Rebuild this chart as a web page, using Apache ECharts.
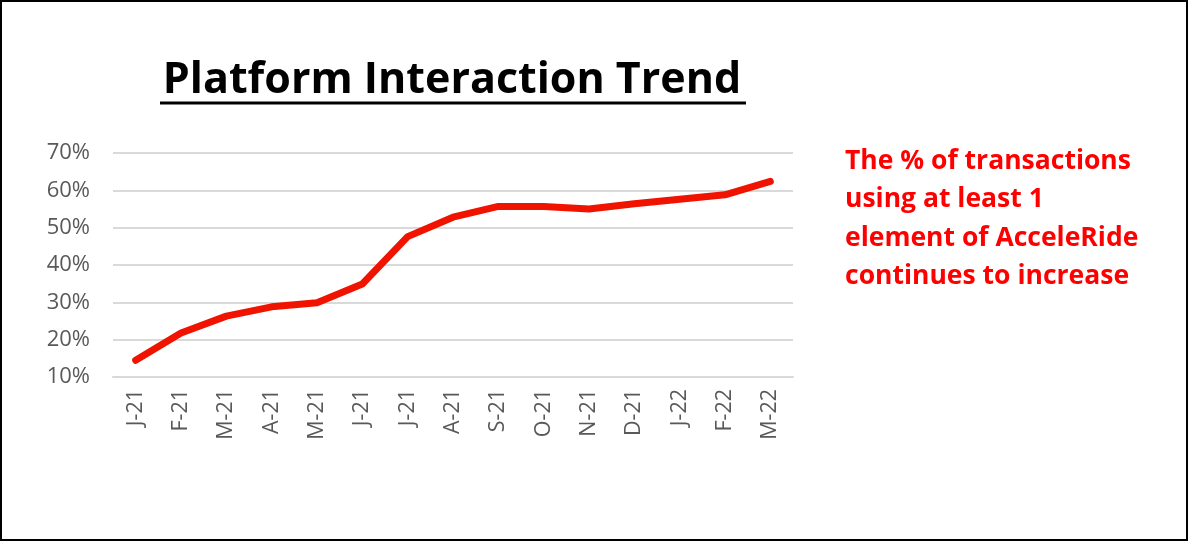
<!DOCTYPE html>
<html>
<head>
<meta charset="utf-8">
<script src="https://cdn.jsdelivr.net/npm/echarts@6/dist/echarts.min.js"></script>
<style>
  html, body { margin: 0; padding: 0; background: #fff; }
  #chart { width: 1188px; height: 541px; box-sizing: border-box; border: 2px solid #000; }
</style>
</head>
<body>
<div id="chart"></div>
<script>
// Monthly share of transactions using at least one AcceleRide element (%)
const months = ['J-21', 'F-21', 'M-21', 'A-21', 'M-21', 'J-21', 'J-21', 'A-21', 'S-21', 'O-21', 'N-21', 'D-21', 'J-22', 'F-22', 'M-22'];
const interactionPct = [14.5, 21.8, 26.3, 28.8, 29.9, 34.9, 47.6, 52.8, 55.7, 55.7, 55.0, 56.4, 57.6, 58.8, 62.4];
const titleText = 'Platform Interaction Trend';
const noteLines = [
  'The % of transactions',
  'using at least 1',
  'element of AcceleRide',
  'continues to increase'
];

const chart = echarts.init(document.getElementById('chart'));
chart.setOption({
  backgroundColor: '#fff',
  animation: false,
  title: {
    text: titleText,
    left: 445,
    top: 52,
    textAlign: 'center',
    textStyle: { fontFamily: 'Open Sans', fontWeight: 'bold', fontSize: 43, color: '#000' }
  },
  graphic: [
    { type: 'line', shape: { x1: 158, y1: 101, x2: 744, y2: 101 }, style: { stroke: '#000', lineWidth: 3 } },
    {
      type: 'text', left: 843, top: 140,
      style: {
        text: noteLines.join('\n'),
        fill: '#ff0000',
        font: 'bold 26.5px "Open Sans"',
        lineHeight: 38.5
      }
    }
  ],
  grid: { left: 111, right: 393, top: 151, bottom: 162, containLabel: false },
  xAxis: {
    type: 'category',
    data: months,
    boundaryGap: true,
    axisLine: { show: true, lineStyle: { color: '#d9d9d9', width: 2 } },
    axisTick: { show: false },
    axisLabel: { rotate: 90, color: '#595959', fontSize: 21.5, fontFamily: 'Open Sans', margin: 12, interval: 0 }
  },
  yAxis: {
    type: 'value',
    min: 10, max: 70, interval: 10,
    axisLine: { show: false },
    axisTick: { show: false },
    splitLine: { lineStyle: { color: '#d9d9d9', width: 2 } },
    axisLabel: { formatter: '{value}%', color: '#595959', fontSize: 22, fontFamily: 'Open Sans', margin: 23 }
  },
  series: [{
    type: 'line',
    data: interactionPct,
    symbol: 'none',
    lineStyle: { color: '#f01300', width: 7, cap: 'round', join: 'round' }
  }]
});
</script>
</body>
</html>
